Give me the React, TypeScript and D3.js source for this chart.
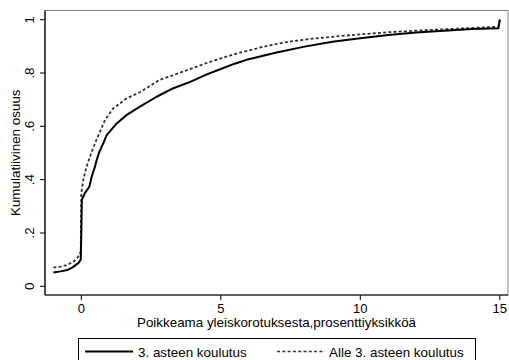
import React from "react";
import * as d3 from "d3";

const tertiaryX = [-1.0, -0.75, -0.5, -0.3, -0.1, -0.02, 0.0, 0.02, 0.13, 0.29, 0.37, 0.49, 0.57, 0.65, 0.79, 0.91, 1.27, 1.63, 2.1, 2.7, 3.3, 3.9, 4.5, 5.0, 5.5, 6.0, 7.0, 8.0, 9.0, 10.0, 11.0, 12.0, 13.0, 14.0, 14.95, 15.0];
const tertiaryY = [0.052, 0.056, 0.061, 0.072, 0.088, 0.1, 0.2, 0.324, 0.35, 0.374, 0.41, 0.449, 0.48, 0.505, 0.537, 0.567, 0.611, 0.643, 0.674, 0.711, 0.743, 0.767, 0.795, 0.815, 0.835, 0.852, 0.877, 0.899, 0.917, 0.93, 0.943, 0.952, 0.959, 0.965, 0.968, 1.0];

const belowX = [-1.0, -0.75, -0.5, -0.25, -0.08, -0.02, 0.0, 0.07, 0.19, 0.31, 0.49, 0.67, 0.85, 1.15, 1.63, 2.1, 2.8, 3.3, 3.8, 4.5, 5.0, 5.6, 6.5, 7.4, 8.3, 9.2, 10.0, 11.0, 12.0, 13.0, 14.0, 14.95, 15.0];
const belowY = [0.07, 0.074, 0.08, 0.095, 0.115, 0.13, 0.349, 0.399, 0.449, 0.486, 0.536, 0.58, 0.624, 0.668, 0.705, 0.728, 0.774, 0.792, 0.811, 0.838, 0.855, 0.874, 0.898, 0.917, 0.929, 0.938, 0.945, 0.953, 0.959, 0.964, 0.969, 0.974, 1.0];

const xTicks = [0, 5, 10, 15];
const yTicks = [0, 0.2, 0.4, 0.6, 0.8, 1];
const yTickLabels = ["0", ".2", ".4", ".6", ".8", "1"];
const seriesNames = ["3. asteen koulutus", "Alle 3. asteen koulutus"];
const xTitle = "Poikkeama yleiskorotuksesta,prosenttiyksikköä";
const yTitle = "Kumulatiivinen osuus";

const W = 509;
const H = 360;
const FONT = "'Liberation Sans', Arial, Helvetica, sans-serif";
const FS = 13.4;

export default function App() {
  const left = 45, right = 508, top = 10.5, bottom = 295;
  const x = d3.scaleLinear().domain([0, 15]).range([81.3, 499.8]);
  const y = d3.scaleLinear().domain([0, 1]).range([286.3, 19.7]);

  const line = d3
    .line<[number, number]>()
    .x((d) => x(d[0]))
    .y((d) => y(d[1]));

  const tData = tertiaryX.map((v, i) => [v, tertiaryY[i]] as [number, number]);
  const bData = belowX.map((v, i) => [v, belowY[i]] as [number, number]);

  const legendY = 351.5;

  return (
    <svg
      width={W}
      height={H}
      style={{ position: "absolute", left: 0, top: 0, display: "block", background: "#fff" }}
      fontFamily={FONT}
    >
      <rect x={0} y={0} width={W} height={H} fill="#fff" />
      <rect x={left} y={top} width={right - left} height={bottom - top} fill="none" stroke="#808080" strokeWidth={1} />
      <line x1={left} x2={left} y1={top} y2={bottom} stroke="#000" strokeWidth={1.2} />
      <line x1={left} x2={right} y1={bottom} y2={bottom} stroke="#000" strokeWidth={1.2} />

      {yTicks.map((t, i) => (
        <g key={"y" + i}>
          <line x1={left - 5} x2={left} y1={y(t)} y2={y(t)} stroke="#000" strokeWidth={1} />
          <text
            transform={`translate(34,${y(t)}) rotate(-90)`}
            textAnchor="middle"
            fontSize={FS}
            fill="#000"
          >
            {yTickLabels[i]}
          </text>
        </g>
      ))}
      {xTicks.map((t, i) => (
        <g key={"x" + i}>
          <line x1={x(t)} x2={x(t)} y1={bottom} y2={bottom + 5} stroke="#000" strokeWidth={1} />
          <text x={x(t)} y={312.5} textAnchor="middle" fontSize={13} fill="#000">
            {t}
          </text>
        </g>
      ))}

      <text x={(left + right) / 2} y={326.5} textAnchor="middle" fontSize={FS} fill="#000">
        {xTitle}
      </text>
      <text
        transform={`translate(20,${(top + bottom) / 2}) rotate(-90)`}
        textAnchor="middle"
        fontSize={FS}
        fill="#000"
      >
        {yTitle}
      </text>

      <path d={line(bData) || ""} fill="none" stroke="#333" strokeWidth={1.8} strokeDasharray="3,2.2" />
      <path d={line(tData) || ""} fill="none" stroke="#000" strokeWidth={2} strokeLinejoin="round" />

      <rect x={78.5} y={338.5} width={397} height={40} fill="#fff" stroke="#000" strokeWidth={1} />
      <line x1={85} x2={133} y1={legendY} y2={legendY} stroke="#000" strokeWidth={1.8} />
      <text x={138} y={357} fontSize={FS} fill="#000">
        {seriesNames[0]}
      </text>
      <line x1={277} x2={325} y1={legendY} y2={legendY} stroke="#333" strokeWidth={1.5} strokeDasharray="3,2.3" />
      <text x={329} y={357} fontSize={FS} fill="#000">
        {seriesNames[1]}
      </text>
    </svg>
  );
}
